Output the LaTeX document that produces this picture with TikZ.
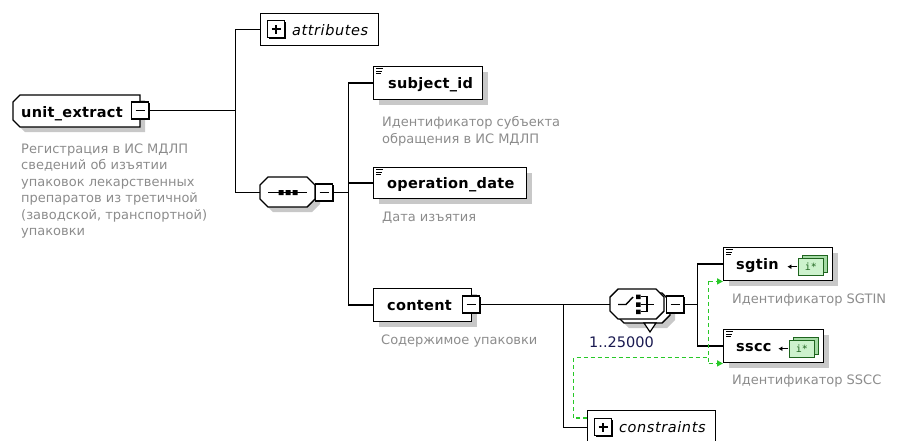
\documentclass[tikz,border=0pt]{standalone}
\usepackage{fontspec}
\setmainfont{DejaVu Sans}
\newfontfamily\monof{DejaVu Sans Mono}
\newfontfamily\namefont{DejaVu Sans}[LetterSpace=2]
\newfontfamily\itfont{DejaVu Sans}[LetterSpace=4]
\usetikzlibrary{shadows,arrows.meta}
\definecolor{shadowc}{RGB}{200,200,200}
\definecolor{descc}{RGB}{140,140,140}
\definecolor{gline}{RGB}{40,200,40}
\definecolor{multc}{RGB}{25,25,80}
\definecolor{icfill}{RGB}{205,242,205}
\definecolor{icback}{RGB}{165,218,165}
\definecolor{icline}{RGB}{30,100,30}
\newcommand\octpath[4]{(#1,#2+8) -- (#1+8,#2) -- (#3-8,#2) -- (#3,#2+8) -- (#3,#4-8) -- (#3-8,#4) -- (#1+8,#4) -- (#1,#4-8) -- cycle}
\newcommand\minusin[1]{\draw[line width=1.4pt] ([xshift=-4.5pt]#1.center) -- ([xshift=4.5pt]#1.center);}
\newcommand\plusin[1]{\minusin{#1}\draw[line width=1.4pt] ([yshift=-4.5pt]#1.center) -- ([yshift=4.5pt]#1.center);}
\newcommand\lnsicon[1]{\draw[line width=0.8pt] ([xshift=3pt,yshift=-2.5pt]#1.north west) -- ++(7,0) ([xshift=3pt,yshift=-5pt]#1.north west) -- ++(6,0) ([xshift=3pt,yshift=-7.5pt]#1.north west) -- ++(5,0);}
\newcommand\typeicon[1]{%
  \draw[line width=1.3pt, -{Latex[length=4pt,width=5pt]}] ([xshift=-36pt,yshift=-2.5pt]#1.east) -- ([xshift=-46pt,yshift=-2.5pt]#1.east);
  \draw[icline, fill=icback, line width=0.8pt] ([xshift=-31pt,yshift=8.5pt]#1.east) rectangle ([xshift=-6pt,yshift=-8pt]#1.east);
  \draw[icline, fill=icfill, line width=0.8pt] ([xshift=-35pt,yshift=5.5pt]#1.east) rectangle ([xshift=-10pt,yshift=-11pt]#1.east);
  \node[font=\monof\fontsize{10}{10}\selectfont, text=icline, inner sep=0pt] (#1-ic) at ([xshift=-22.5pt,yshift=-2.75pt]#1.east) {i*};}
\begin{document}
\begin{tikzpicture}[x=1pt,y=-1pt,
  conn/.style={draw=black, line width=1.5pt},
  gdash/.style={draw=gline, line width=1.5pt, dash pattern=on 4pt off 3pt},
  gtip/.style={-{Triangle[length=6pt,width=6pt,fill=gline]}},
  elem/.style={draw=black, line width=1.4pt, fill=white, rectangle, inner sep=0pt, anchor=north west,
    general shadow={fill=shadowc, shadow xshift=5pt, shadow yshift=-5pt}},
  grp/.style={draw=black, line width=1.4pt, fill=white, rectangle, inner sep=0pt, anchor=north west},
  pmbox/.style={draw=black, line width=1.2pt, fill=white, rectangle, inner sep=0pt, minimum width=17pt, minimum height=17pt,
    general shadow={fill=black, shadow xshift=1.3pt, shadow yshift=-1.3pt}},
  hole/.style={inner sep=0pt, rectangle},
  nm/.style={font=\namefont\fontsize{14.5}{17}\selectfont\bfseries, inner sep=0pt, anchor=base west},
  itx/.style={font=\itfont\fontsize{14.5}{17}\selectfont\itshape, inner sep=0pt, anchor=base west},
  desc/.style={font=\fontsize{13}{16.5}\selectfont, text=descc, align=left, inner sep=0pt, anchor=north west}]
\useasboundingbox (0,0) rectangle (902,440);

% unit_extract shape
\fill[shadowc] (18,107) -- (25,100) -- (145,100) -- (145,132) -- (25,132) -- (18,125) -- cycle;
\draw[line width=1.4pt, fill=white] (13,102) -- (20,95) -- (140,95) -- (140,127) -- (20,127) -- (13,120) -- cycle;
\node[hole, minimum width=127pt, minimum height=32pt] (ue) at (76.5,111) {};

% sequence compositor
\fill[shadowc] \octpath{265}{182}{320}{212};
\draw[line width=1.4pt, fill=white] \octpath{260}{177}{315}{207};
\node[hole, minimum width=55pt, minimum height=30pt] (seq) at (287.5,192.5) {};
\draw[line width=1.4pt] (268,192.5) -- (307,192.5);
\fill (278.5,190) rectangle (283.5,195) (285.5,190) rectangle (290.5,195) (292.5,190) rectangle (297.5,195);

% choice compositor (repeating)
\fill[shadowc] \octpath{621}{298}{675}{328};
\draw[line width=1.4pt, fill=white] \octpath{616}{293}{670}{323};
\draw[line width=1.2pt, fill=white] (644,323) -- (656,323) -- (650,332) -- cycle;
\draw[line width=1.4pt, fill=white] \octpath{610}{289}{664}{319};
\node[hole, minimum width=54pt, minimum height=30pt] (ch) at (637,304.5) {};
\draw[line width=1.4pt] (618,304.5) -- (626,304.5) -- (633,297);
\fill (636,294.5) rectangle (640.5,299) (636,302.25) rectangle (640.5,306.75) (636,309.5) rectangle (640.5,314);
\draw[line width=1.2pt] (640.5,296.75) -- (647,296.75) -- (647,311.75) -- (640.5,311.75) (640.5,304.5) -- (654,304.5);

% elements
\node[elem, minimum width=109pt, minimum height=33pt] (subj) at (373,66) {};
\node[elem, minimum width=153pt, minimum height=31pt] (opd) at (373,167) {};
\node[elem, minimum width=98pt, minimum height=33pt] (cont) at (373,288) {};
\node[elem, minimum width=109pt, minimum height=33pt] (sgtin) at (723,247) {};
\node[elem, minimum width=100pt, minimum height=33pt] (sscc) at (723,329) {};
\node[grp, minimum width=118pt, minimum height=32pt] (attr) at (260,13) {};
\node[grp, minimum width=128pt, minimum height=34pt] (cons) at (587,410) {};

\lnsicon{subj}\lnsicon{opd}\lnsicon{sgtin}\lnsicon{sscc}
\typeicon{sgtin}\typeicon{sscc}

% plus / minus boxes
\node[pmbox] (uem) at (140,110.5) {};
\node[pmbox] (seqm) at (324,192.5) {};
\node[pmbox] (contm) at (471,304.5) {};
\node[pmbox] (chm) at (675,304.5) {};
\node[pmbox] (attrp) at (276,29) {};
\node[pmbox] (consp) at (603,427) {};
\minusin{uem}\minusin{seqm}\minusin{contm}\minusin{chm}
\plusin{attrp}\plusin{consp}

% connectors
\coordinate (tr1) at (235.5,110.5);
\coordinate (tr2) at (348.5,192.5);
\coordinate (tr3) at (563.5,304.5);
\coordinate (tr4) at (697.5,304.5);
\draw[conn] (uem.east) -- (tr1);
\draw[conn] (attr.west) -| (tr1);
\draw[conn] (seq.west) -| (tr1);
\draw[conn] (seqm.east) -- (tr2);
\draw[conn] (subj.west) -| (tr2);
\draw[conn] (opd.west) -| (tr2);
\draw[conn] (cont.west) -| (tr2);
\draw[conn] (contm.east) -- (ch.west);
\draw[conn] (cons.west) -| (tr3);
\draw[conn] (chm.east) -- (tr4);
\draw[conn] (sgtin.west) -| (tr4);
\draw[conn] (sscc.west) -| (tr4);

% identity constraint (green dashed)
\coordinate (g1) at (573.5,357.5);
\coordinate (g2) at (708.5,357.5);
\draw[gdash] ([yshift=-8pt]cons.north west) -| (g1) -- (g2);
\draw[gdash] (g2 |- sgtin.south west) -- (g2 |- sscc.south west);
\draw[gdash, gtip] (g2 |- sgtin.south west) -- (sgtin.south west);
\draw[gdash, gtip] (g2 |- sscc.south west) -- (sscc.south west);

% texts
\node[nm] (uet) at (21,117) {unit\_extract};
\node[nm] (subjt) at (388,88.5) {subject\_id};
\node[nm] (opdt) at (387,188.5) {operation\_date};
\node[nm] (contt) at (387,310.5) {content};
\node[nm] (sgtint) at (736,269.5) {sgtin};
\node[nm] (sscct) at (736,351.5) {sscc};
\node[itx] (attrt) at (292,35) {attributes};
\node[itx] (const) at (619,432) {constraints};

\node[desc] (ued) at (21,143.5) {Регистрация в ИС МДЛП\\сведений об изъятии\\упаковок лекарственных\\препаратов из третичной\\(заводской, транспортной)\\упаковки};
\node[desc] (subjd) at (382,116.5) {Идентификатор субъекта\\обращения в ИС МДЛП};
\node[desc] (opdd) at (382,211.5) {Дата изъятия};
\node[desc] (contd) at (381,334.5) {Содержимое упаковки};
\node[desc] (sgtind) at (732,293.5) {Идентификатор SGTIN};
\node[desc] (ssccd) at (732,375) {Идентификатор SSCC};
\node[font=\fontsize{14.5}{17}\selectfont, text=multc, inner sep=0pt, anchor=north west] (mult) at (589,336.5) {1..25000};
\end{tikzpicture}
\end{document}
